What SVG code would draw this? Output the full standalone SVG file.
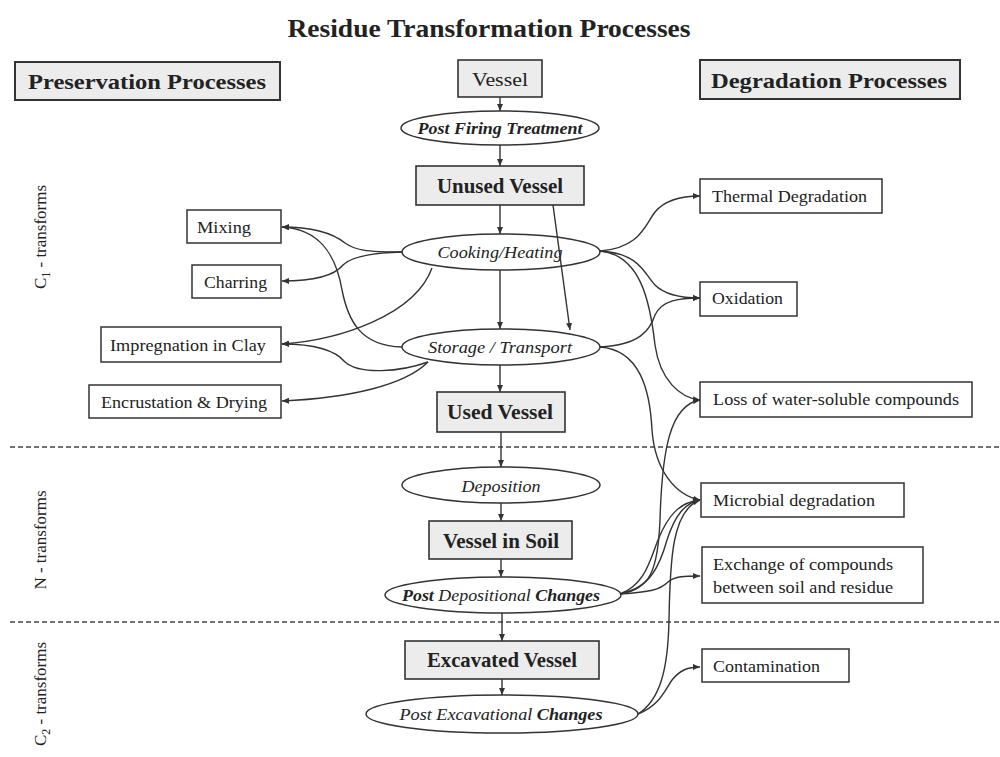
<svg xmlns="http://www.w3.org/2000/svg" width="1000" height="757" viewBox="0 0 1000 757">
<defs>
<style>
.bg{fill:#ffffff}
.gbox{fill:#ececec;stroke:#333;stroke-width:1.6}
.hbox{fill:#ececec;stroke:#333;stroke-width:2}
.wbox{fill:#ffffff;stroke:#333;stroke-width:1.5}
.ell{fill:#ffffff;stroke:#333;stroke-width:1.5}
.t{font-family:"Liberation Serif","Times New Roman",serif;fill:#222}
.reg{font-size:17px}
.bold{font-size:21px;font-weight:bold}
.it{font-size:16px;font-style:italic}
.side{font-size:17px}
.c{text-anchor:middle}
.con{fill:none;stroke:#333;stroke-width:1.4}
.dash{stroke:#444;stroke-width:1.4;stroke-dasharray:5,3}
</style>
<marker id="ah" markerWidth="7" markerHeight="6" refX="7" refY="3" orient="auto" markerUnits="userSpaceOnUse">
<path d="M0,0 L7,3 L0,6 z" fill="#333"/>
</marker>
</defs>
<rect class="bg" x="0" y="0" width="1000" height="757"/>

<text class="t c" x="489" y="37" font-size="25" font-weight="bold" textLength="403" lengthAdjust="spacingAndGlyphs">Residue Transformation Processes</text>

<g id="side-labels">
<text class="t side c" transform="translate(46,237) rotate(-90)">C<tspan font-size="12" dy="4">1</tspan><tspan dy="-4"> - transforms</tspan></text>
<text class="t side c" transform="translate(46,540) rotate(-90)">N - transforms</text>
<text class="t side c" transform="translate(46,694) rotate(-90)">C<tspan font-size="12" dy="4">2</tspan><tspan dy="-4"> - transforms</tspan></text>
</g>

<g id="separators">
<line class="dash" x1="10" y1="447" x2="1000" y2="447"/>
<line class="dash" x1="10" y1="622" x2="1000" y2="622"/>
</g>

<g id="preservation-header">
<rect class="hbox" x="15" y="62" width="265" height="38"/>
<text class="t c" x="147" y="89" font-size="21" font-weight="bold" textLength="238" lengthAdjust="spacingAndGlyphs">Preservation Processes</text>
</g>
<g id="degradation-header">
<rect class="hbox" x="700" y="60" width="260" height="39"/>
<text class="t c" x="829" y="88" font-size="21" font-weight="bold" textLength="236" lengthAdjust="spacingAndGlyphs">Degradation Processes</text>
</g>

<g id="vessel">
<rect class="gbox" x="458" y="60" width="84" height="37"/>
<text class="t c" x="500" y="86" font-size="18" textLength="56" lengthAdjust="spacingAndGlyphs">Vessel</text>
</g>
<g id="post-firing">
<ellipse class="ell" cx="500" cy="128" rx="99" ry="17"/>
<text class="t it c" x="500" y="134" font-weight="bold" textLength="165" lengthAdjust="spacingAndGlyphs">Post Firing Treatment</text>
</g>
<g id="unused-vessel">
<rect class="gbox" x="416" y="166" width="168" height="39"/>
<text class="t bold c" x="500" y="193" textLength="126" lengthAdjust="spacingAndGlyphs">Unused Vessel</text>
</g>
<g id="cooking">
<ellipse class="ell" cx="501" cy="252" rx="99" ry="18"/>
<text class="t it c" x="500" y="258" textLength="125" lengthAdjust="spacingAndGlyphs">Cooking/Heating</text>
</g>
<g id="storage">
<ellipse class="ell" cx="501" cy="347" rx="99" ry="18"/>
<text class="t it c" x="500" y="353" textLength="144" lengthAdjust="spacingAndGlyphs">Storage / Transport</text>
</g>
<g id="used-vessel">
<rect class="gbox" x="437" y="392" width="128" height="40"/>
<text class="t bold c" x="500" y="419" textLength="106" lengthAdjust="spacingAndGlyphs">Used Vessel</text>
</g>
<g id="deposition">
<ellipse class="ell" cx="501" cy="485" rx="99" ry="18"/>
<text class="t it c" x="501" y="492" textLength="79" lengthAdjust="spacingAndGlyphs">Deposition</text>
</g>
<g id="vessel-in-soil">
<rect class="gbox" x="429" y="521" width="143" height="38"/>
<text class="t bold c" x="501" y="548" textLength="116" lengthAdjust="spacingAndGlyphs">Vessel in Soil</text>
</g>
<g id="post-depositional">
<ellipse class="ell" cx="503" cy="595" rx="118" ry="18"/>
<text class="t it c" x="501" y="601" textLength="198" lengthAdjust="spacingAndGlyphs"><tspan font-weight="bold">Post</tspan> Depositional <tspan font-weight="bold">Changes</tspan></text>
</g>
<g id="excavated-vessel">
<rect class="gbox" x="405" y="641" width="194" height="38"/>
<text class="t bold c" x="502" y="667" textLength="150" lengthAdjust="spacingAndGlyphs">Excavated Vessel</text>
</g>
<g id="post-excavational">
<ellipse class="ell" cx="502" cy="714" rx="136" ry="19"/>
<text class="t it c" x="501" y="720" textLength="203" lengthAdjust="spacingAndGlyphs">Post Excavational <tspan font-weight="bold">Changes</tspan></text>
</g>

<g id="mixing">
<rect class="wbox" x="187" y="210" width="94" height="33"/>
<text class="t reg" x="197" y="233" textLength="54" lengthAdjust="spacingAndGlyphs">Mixing</text>
</g>
<g id="charring">
<rect class="wbox" x="192" y="265" width="89" height="33"/>
<text class="t reg" x="204" y="288" textLength="63" lengthAdjust="spacingAndGlyphs">Charring</text>
</g>
<g id="impregnation">
<rect class="wbox" x="101" y="327" width="180" height="35"/>
<text class="t reg" x="110" y="351" textLength="156" lengthAdjust="spacingAndGlyphs">Impregnation in Clay</text>
</g>
<g id="encrustation">
<rect class="wbox" x="89" y="385" width="192" height="33"/>
<text class="t reg" x="101" y="408" textLength="166" lengthAdjust="spacingAndGlyphs">Encrustation &amp; Drying</text>
</g>

<g id="thermal">
<rect class="wbox" x="700" y="179" width="182" height="34"/>
<text class="t reg" x="712" y="202" textLength="155" lengthAdjust="spacingAndGlyphs">Thermal Degradation</text>
</g>
<g id="oxidation">
<rect class="wbox" x="700" y="282" width="97" height="34"/>
<text class="t reg" x="712" y="304" textLength="71" lengthAdjust="spacingAndGlyphs">Oxidation</text>
</g>
<g id="loss">
<rect class="wbox" x="700" y="382" width="272" height="35"/>
<text class="t reg" x="713" y="405" textLength="246" lengthAdjust="spacingAndGlyphs">Loss of water-soluble compounds</text>
</g>
<g id="microbial">
<rect class="wbox" x="701" y="483" width="203" height="34"/>
<text class="t reg" x="713" y="506" textLength="162" lengthAdjust="spacingAndGlyphs">Microbial degradation</text>
</g>
<g id="exchange">
<rect class="wbox" x="702" y="547" width="221" height="56"/>
<text class="t reg" x="713" y="570" textLength="180" lengthAdjust="spacingAndGlyphs">Exchange of compounds</text>
<text class="t reg" x="713" y="593" textLength="180" lengthAdjust="spacingAndGlyphs">between soil and residue</text>
</g>
<g id="contamination">
<rect class="wbox" x="702" y="649" width="147" height="33"/>
<text class="t reg" x="713" y="672" textLength="107" lengthAdjust="spacingAndGlyphs">Contamination</text>
</g>

<g id="connectors">
<path class="con" marker-end="url(#ah)" d="M500,97 L500,111"/>
<path class="con" marker-end="url(#ah)" d="M500,145 L500,166"/>
<path class="con" marker-end="url(#ah)" d="M500,205 L500,234"/>
<path class="con" marker-end="url(#ah)" d="M553,205 L570,330"/>
<path class="con" marker-end="url(#ah)" d="M500,270 L500,329"/>
<path class="con" marker-end="url(#ah)" d="M500,365 L500,392"/>
<path class="con" marker-end="url(#ah)" d="M501,432 L501,467"/>
<path class="con" marker-end="url(#ah)" d="M501,503 L501,521"/>
<path class="con" marker-end="url(#ah)" d="M501,559 L501,577"/>
<path class="con" marker-end="url(#ah)" d="M502,613 L502,641"/>
<path class="con" marker-end="url(#ah)" d="M502,679 L502,695"/>

<path class="con" marker-end="url(#ah)" d="M402,252 C365,252 355,250 345,243 C335,235 315,227 282,227"/>
<path class="con" marker-end="url(#ah)" d="M402,252 C365,253 350,258 343,265 C335,275 315,281 282,281"/>
<path class="con" marker-end="url(#ah)" d="M432,268 C415,315 340,340 282,344"/>
<path class="con" marker-end="url(#ah)" d="M402,347 C360,346 348,320 342,290 C336,255 320,229 282,227"/>
<path class="con" marker-end="url(#ah)" d="M428,362 C400,372 360,375 345,362 C335,350 315,344 282,344"/>
<path class="con" marker-end="url(#ah)" d="M428,362 C405,385 350,398 282,401"/>

<path class="con" marker-end="url(#ah)" d="M600,251 C640,248 645,225 655,212 C665,200 680,196 700,196"/>
<path class="con" marker-end="url(#ah)" d="M600,251 C640,253 645,275 655,285 C665,295 680,298 700,298"/>
<path class="con" marker-end="url(#ah)" d="M600,251 C640,255 650,300 655,345 C660,380 680,398 700,400"/>
<path class="con" marker-end="url(#ah)" d="M600,347 C640,345 650,330 655,315 C662,300 680,298 700,298"/>
<path class="con" marker-end="url(#ah)" d="M600,347 C640,350 650,390 652,430 C655,470 675,495 700,500"/>
<path class="con" marker-end="url(#ah)" d="M620,594 C650,590 658,570 660,520 C662,450 670,405 700,400"/>
<path class="con" marker-end="url(#ah)" d="M620,594 C645,585 650,560 658,540 C668,515 680,502 700,500"/>
<path class="con" marker-end="url(#ah)" d="M622,593 C650,588 660,565 667,540 C675,515 685,503 700,500"/>
<path class="con" marker-end="url(#ah)" d="M620,594 C650,592 660,590 668,582 C675,576 685,576 700,576"/>
<path class="con" marker-end="url(#ah)" d="M638,714 C660,700 668,670 669,620 C670,560 672,510 700,500"/>
<path class="con" marker-end="url(#ah)" d="M638,714 C660,705 665,690 672,680 C680,670 688,667 700,667"/>
</g>
</svg>
